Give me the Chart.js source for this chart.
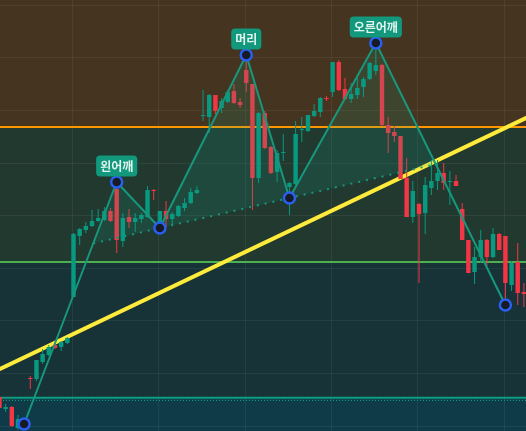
<!DOCTYPE html>
<html>
<head>
<meta charset="utf-8">
<script src="https://cdn.jsdelivr.net/npm/chart.js@4.4.0/dist/chart.umd.min.js"></script>
<style>
  html, body { margin: 0; padding: 0; background: #22382f; }
  #wrap { width: 526px; height: 431px; }
</style>
</head>
<body>
<div id="wrap"><canvas id="chart" width="526" height="431"></canvas></div>
<script>
// Candles (price units, one per bar)
const opens  = [34,22,24,3,6,53,52,69,76,86,84,88,134,195,201,205,210,211,220,242,190,214,209,212,214,241,208,220,212,215,223,228,238,315,314,336,323,329,340,329,361,347,253,318,284,259,278,244,247,301,300,315,319,333,339,369,342,332,336,344,352,360,366,306,299,295,253,214,227,218,243,250,258,249,250,222,191,159,174,191,174,197,195,146,169,139];
const closes = [23,24,5,12,10,52,71,77,84,83,89,93,197,202,205,210,213,220,210,191,213,209,213,216,241,240,220,212,217,225,228,239,241,316,336,320,330,339,328,326,348,253,318,283,258,278,279,248,297,302,316,320,333,332,369,341,332,337,343,352,368,366,306,298,295,252,214,240,217,246,250,258,248,250,245,191,158,174,191,174,197,181,148,168,138,137];
const highs  = [36,27,25,16,11,55,71,82,86,88,90,94,198,203,209,221,222,224,223,249,218,222,218,218,245,242,220,230,219,226,233,243,245,341,337,336,333,341,347,333,376,347,319,320,285,281,297,249,310,314,316,327,334,335,369,371,353,348,353,354,369,388,367,314,305,295,273,250,228,254,271,271,268,260,256,228,191,184,201,192,203,198,195,170,188,148];
const lows   = [21,19,4,1,5,42,50,67,75,82,80,87,134,186,198,204,209,210,209,178,184,203,199,208,213,231,203,204,206,214,220,227,237,310,298,317,318,328,327,323,339,221,248,282,257,249,270,216,246,289,299,314,314,330,334,340,331,328,332,334,351,356,305,278,289,252,214,208,148,197,236,241,241,226,245,191,158,147,168,165,173,181,126,140,126,124];

// Head and shoulders pivots (bar index, price)
const patternX = [4, 19, 26, 40, 47, 61, 82];
const patternY = [7, 249, 203, 376, 233, 388, 126];
const labelAt = [1, 3, 5];
const labelText = ['왼어깨', '머리', '오른어깨'];

// Trend line and horizontal levels
const trendX = [0, 86];
const trendY = [61.7, 314.9];
const levels = [304, 169, 33.3];
const dottedLevel = 30.7;

// Grid positions
const gridX = [4.8, 18.8, 32.8, 46.8, 60.8, 74.8];
const gridY = [5, 57.6, 110.2, 162.8, 215.4, 268, 320.6, 373.2, 425.8];

const upColor = '#089981';
const downColor = '#f23645';
const lineTeal = '#17977c';
const bandColors = ['#45341f', '#22392f', '#173337', '#0f3a48'];
const levelColors = ['#ff9800', '#4caf50', '#0e9c80'];

const candleColors = opens.map((o, i) => closes[i] >= o ? upColor : downColor);
const wickData = opens.map((o, i) => ({ x: i, y: [lows[i], highs[i]] }));
const bodyData = opens.map((o, i) => ({ x: i, y: [Math.min(o, closes[i]), Math.max(o, closes[i])] }));
const pivots = patternX.map((x, i) => ({ x, y: patternY[i] }));
const trend = trendX.map((x, i) => ({ x, y: trendY[i] }));

// where line pq meets line rs
function cruce(p, q, r, s) {
  const m1 = (q.y - p.y) / (q.x - p.x);
  const m2 = (s.y - r.y) / (s.x - r.x);
  const x = (r.y - p.y + m1 * p.x - m2 * r.x) / (m1 - m2);
  return { x, y: p.y + m1 * (x - p.x) };
}
const neckStart = cruce(pivots[0], pivots[1], pivots[2], pivots[4]);
const neckEnd = cruce(pivots[5], pivots[6], pivots[2], pivots[4]);
const shape = [neckStart, ...pivots.slice(1, 6), neckEnd];

const zones = {
  id: 'zones',
  beforeDraw(chart) {
    const { ctx, chartArea: a, scales: { y } } = chart;
    const edges = [y.max, ...levels, y.min];
    ctx.save();
    bandColors.forEach((c, i) => {
      const top = y.getPixelForValue(edges[i]);
      const bot = y.getPixelForValue(edges[i + 1]);
      ctx.fillStyle = c;
      ctx.fillRect(a.left, top, a.right - a.left, bot - top);
    });
    ctx.restore();
  },
  beforeDatasetsDraw(chart) {
    const { ctx, chartArea: a, scales: { y } } = chart;
    ctx.save();
    ctx.lineWidth = 2;
    levels.forEach((v, i) => {
      const py = y.getPixelForValue(v);
      ctx.strokeStyle = levelColors[i];
      ctx.beginPath(); ctx.moveTo(a.left, py); ctx.lineTo(a.right, py); ctx.stroke();
    });
    const pd = y.getPixelForValue(dottedLevel);
    ctx.setLineDash([1, 2]);
    ctx.lineWidth = 1.2;
    ctx.strokeStyle = levelColors[2];
    ctx.beginPath(); ctx.moveTo(a.left, pd); ctx.lineTo(a.right, pd); ctx.stroke();
    ctx.restore();
  }
};

const tags = {
  id: 'tags',
  afterDatasetsDraw(chart) {
    const { ctx, scales: { x, y } } = chart;
    ctx.save();
    ctx.font = "bold 12px 'Noto Sans CJK KR'";
    ctx.textAlign = 'center';
    ctx.textBaseline = 'middle';
    labelAt.forEach((k, j) => {
      const px = x.getPixelForValue(patternX[k]);
      const py = y.getPixelForValue(patternY[k]);
      const w = ctx.measureText(labelText[j]).width + 8;
      const h = 21;
      const top = py - 5.5 - h;
      ctx.fillStyle = '#11987d';
      ctx.beginPath();
      ctx.roundRect(px - w / 2, top, w, h, 4);
      ctx.fill();
      ctx.fillStyle = '#e2f4ee';
      ctx.fillText(labelText[j], px, top + h / 2 + 0.5);
    });
    ctx.restore();
  }
};

const axisBase = {
  type: 'linear',
  offset: false,
  border: { display: false },
  ticks: { display: false },
  grid: { color: 'rgba(255,255,255,0.06)', drawTicks: false, lineWidth: 1 }
};

new Chart(document.getElementById('chart'), {
  type: 'bar',
  data: {
    datasets: [
      { type: 'line', data: trend, borderColor: '#ffeb3b', borderWidth: 4, pointRadius: 0, order: 10 },
      { type: 'bar', data: wickData, backgroundColor: candleColors, maxBarThickness: 1, grouped: false, order: 9 },
      { type: 'bar', data: bodyData, backgroundColor: candleColors, maxBarThickness: 5, grouped: false, order: 8 },
      { type: 'line', data: shape, borderWidth: 0, borderColor: 'transparent', backgroundColor: 'rgba(20,170,140,0.15)', fill: 'shape', pointRadius: 0, order: 4 },
      { type: 'line', data: [neckStart, neckEnd], borderColor: lineTeal, borderWidth: 2, borderDash: [2, 6], pointRadius: 0, order: 3 },
      { type: 'line', data: pivots, borderColor: lineTeal, borderWidth: 2, pointRadius: 0, order: 2 },
      { type: 'line', data: pivots, showLine: false, pointRadius: 5.5, pointBackgroundColor: '#161b25', pointBorderColor: '#2a5ff0', pointBorderWidth: 2.5, order: 1 }
    ]
  },
  options: {
    responsive: false,
    animation: false,
    events: [],
    layout: { padding: 0, autoPadding: false },
    plugins: { legend: { display: false }, tooltip: { enabled: false } },
    scales: {
      x: { ...axisBase, min: 0.0875, max: 85.34, afterBuildTicks: s => { s.ticks = gridX.map(v => ({ value: v })); } },
      y: { ...axisBase, min: 0, max: 431, afterBuildTicks: s => { s.ticks = gridY.map(v => ({ value: v })); } }
    }
  },
  plugins: [zones, tags]
});
</script>
</body>
</html>
